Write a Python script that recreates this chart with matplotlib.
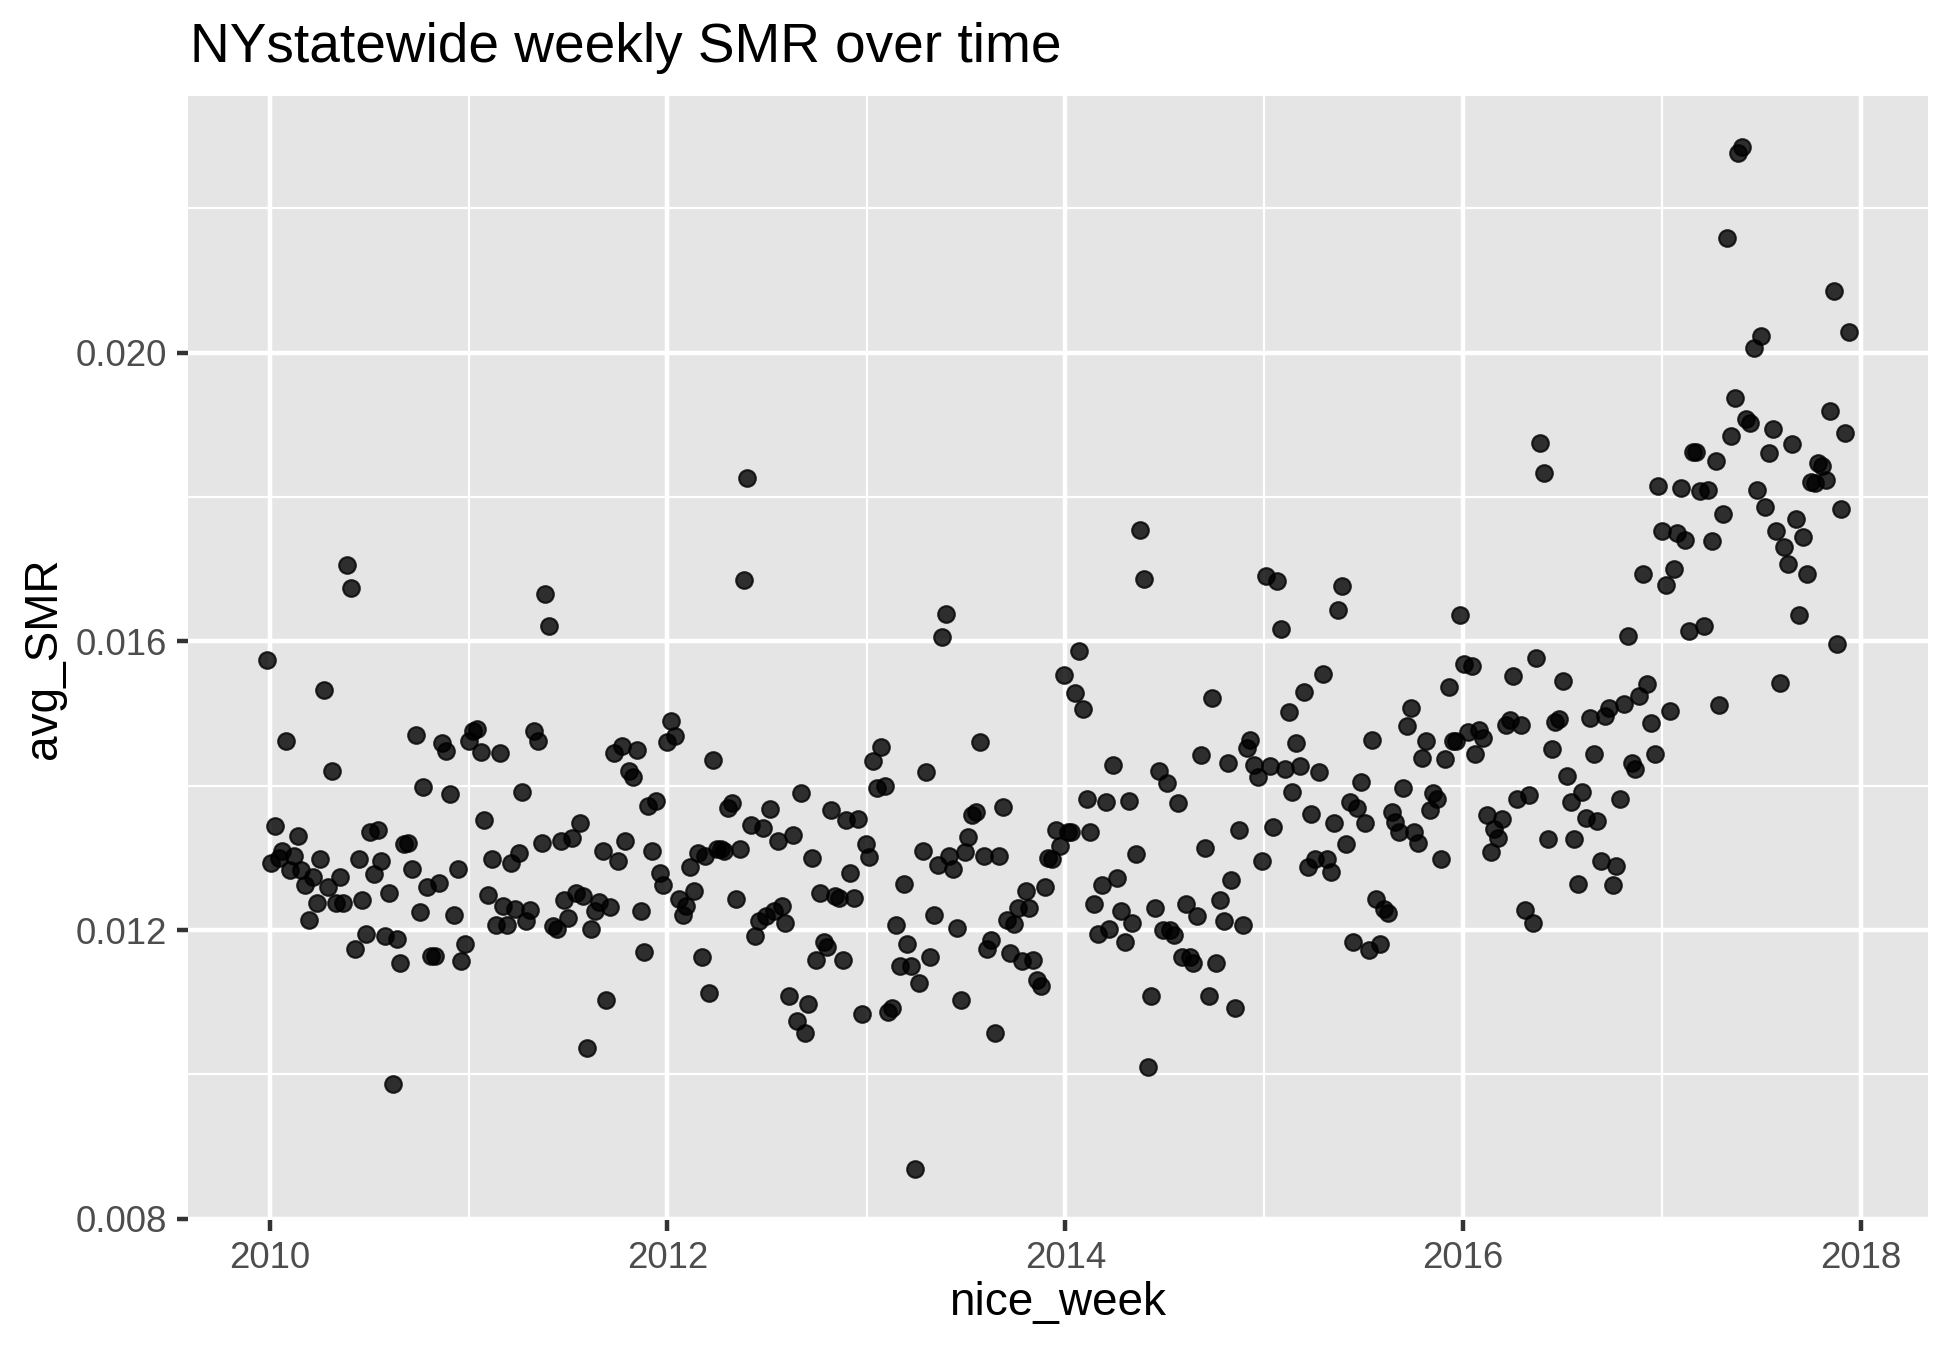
"""
NY statewide weekly SMR scatter, ggplot-style look with matplotlib.
"""

import matplotlib
matplotlib.use("Agg")
import matplotlib.dates as mdates
import matplotlib.pyplot as plt
import matplotlib.ticker as mticker
import numpy as np
import pandas as pd

# weekly avg_SMR, one list per year of weeks
smr_2010 = [0.01574, 0.01293, 0.01344, 0.01300, 0.01310, 0.01462, 0.01283, 0.01302, 0.01330, 0.01283,
            0.01263, 0.01214, 0.01274, 0.01237, 0.01299, 0.01532, 0.01259, 0.01421, 0.01237, 0.01274,
            0.01237, 0.01706, 0.01674, 0.01174, 0.01299, 0.01241, 0.01194, 0.01336, 0.01277, 0.01339,
            0.01296, 0.01192, 0.01252, 0.00986, 0.01188, 0.01155, 0.01319, 0.01321, 0.01285, 0.01470,
            0.01225, 0.01398, 0.01259, 0.01164, 0.01164, 0.01265, 0.01459, 0.01448, 0.01388, 0.01221,
            0.01284, 0.01157, 0.01180]
smr_2011 = [0.01462, 0.01476, 0.01479, 0.01447, 0.01352, 0.01248, 0.01299, 0.01207, 0.01446, 0.01234,
            0.01207, 0.01293, 0.01229, 0.01307, 0.01391, 0.01212, 0.01228, 0.01476, 0.01462, 0.01320,
            0.01665, 0.01622, 0.01206, 0.01201, 0.01324, 0.01241, 0.01217, 0.01328, 0.01251, 0.01348,
            0.01247, 0.01036, 0.01201, 0.01226, 0.01239, 0.01309, 0.01103, 0.01232, 0.01446, 0.01295,
            0.01455, 0.01323, 0.01421, 0.01412, 0.01450, 0.01226, 0.01169, 0.01372, 0.01309, 0.01379,
            0.01279, 0.01263]
smr_2012 = [0.01460, 0.01490, 0.01469, 0.01243, 0.01221, 0.01234, 0.01288, 0.01254, 0.01307, 0.01163,
            0.01303, 0.01113, 0.01436, 0.01312, 0.01312, 0.01310, 0.01369, 0.01376, 0.01243, 0.01313,
            0.01685, 0.01826, 0.01345, 0.01192, 0.01212, 0.01341, 0.01219, 0.01368, 0.01226, 0.01324,
            0.01234, 0.01210, 0.01108, 0.01332, 0.01074, 0.01390, 0.01058, 0.01097, 0.01300, 0.01159,
            0.01251, 0.01184, 0.01177, 0.01367, 0.01247, 0.01245, 0.01159, 0.01352, 0.01279, 0.01245,
            0.01354, 0.01083]
smr_2013 = [0.01319, 0.01301, 0.01434, 0.01397, 0.01454, 0.01400, 0.01086, 0.01092, 0.01207, 0.01150,
            0.01264, 0.01181, 0.01150, 0.00869, 0.01126, 0.01310, 0.01419, 0.01163, 0.01221, 0.01290,
            0.01606, 0.01638, 0.01303, 0.01285, 0.01203, 0.01103, 0.01308, 0.01329, 0.01359, 0.01363,
            0.01460, 0.01303, 0.01174, 0.01186, 0.01057, 0.01303, 0.01370, 0.01214, 0.01168, 0.01209,
            0.01230, 0.01157, 0.01254, 0.01230, 0.01159, 0.01131, 0.01122, 0.01259, 0.01300, 0.01299,
            0.01338, 0.01317]
smr_2014 = [0.01554, 0.01336, 0.01336, 0.01529, 0.01587, 0.01507, 0.01381, 0.01336, 0.01236, 0.01194,
            0.01262, 0.01377, 0.01202, 0.01429, 0.01272, 0.01226, 0.01184, 0.01379, 0.01210, 0.01305,
            0.01754, 0.01687, 0.01010, 0.01108, 0.01230, 0.01421, 0.01200, 0.01404, 0.01200, 0.01193,
            0.01376, 0.01162, 0.01236, 0.01162, 0.01155, 0.01219, 0.01443, 0.01314, 0.01109, 0.01521,
            0.01155, 0.01241, 0.01212, 0.01432, 0.01270, 0.01092, 0.01339, 0.01207, 0.01452, 0.01464,
            0.01429, 0.01412]
smr_2015 = [0.01296, 0.01691, 0.01428, 0.01343, 0.01684, 0.01617, 0.01423, 0.01502, 0.01392, 0.01459,
            0.01428, 0.01530, 0.01288, 0.01361, 0.01299, 0.01419, 0.01555, 0.01298, 0.01281, 0.01348,
            0.01643, 0.01677, 0.01319, 0.01378, 0.01183, 0.01369, 0.01405, 0.01348, 0.01172, 0.01463,
            0.01243, 0.01181, 0.01229, 0.01224, 0.01363, 0.01350, 0.01336, 0.01397, 0.01483, 0.01508,
            0.01336, 0.01321, 0.01439, 0.01462, 0.01367, 0.01390, 0.01381, 0.01298, 0.01437, 0.01537,
            0.01462, 0.01462, 0.01636]
smr_2016 = [0.01569, 0.01474, 0.01566, 0.01444, 0.01477, 0.01466, 0.01360, 0.01308, 0.01340, 0.01327,
            0.01354, 0.01484, 0.01491, 0.01552, 0.01382, 0.01484, 0.01228, 0.01387, 0.01210, 0.01577,
            0.01875, 0.01833, 0.01326, 0.01451, 0.01489, 0.01493, 0.01545, 0.01414, 0.01378, 0.01326,
            0.01264, 0.01391, 0.01355, 0.01494, 0.01444, 0.01351, 0.01296, 0.01496, 0.01508, 0.01263,
            0.01289, 0.01382, 0.01513, 0.01608, 0.01432, 0.01423, 0.01524, 0.01693, 0.01541, 0.01487,
            0.01444, 0.01816]
smr_2017 = [0.01753, 0.01678, 0.01503, 0.01700, 0.01750, 0.01812, 0.01740, 0.01614, 0.01862, 0.01862,
            0.01809, 0.01622, 0.01810, 0.01739, 0.01850, 0.01512, 0.01777, 0.02159, 0.01884, 0.01937,
            0.02277, 0.02285, 0.01908, 0.01902, 0.02007, 0.01810, 0.02023, 0.01786, 0.01861, 0.01895,
            0.01753, 0.01543, 0.01731, 0.01707, 0.01874, 0.01770, 0.01636, 0.01744, 0.01693, 0.01821,
            0.01819, 0.01847, 0.01843, 0.01824, 0.01919, 0.02085, 0.01597, 0.01783, 0.01889, 0.02029]

first_week = "2009-12-27"

title = "NYstatewide weekly SMR over time"
x_label = "nice_week"
y_label = "avg_SMR"
x_major_years = [2010, 2012, 2014, 2016, 2018]
x_minor_years = [2011, 2013, 2015, 2017]
y_major = [0.008, 0.012, 0.016, 0.020]
y_minor = [0.010, 0.014, 0.018, 0.022]

plt.rcParams['font.family'] = ['Liberation Sans', 'DejaVu Sans']

W, H = 1950, 1349


def year_num(years):
    return mdates.date2num([pd.Timestamp(f"{y}-01-01") for y in years])


def main():
    smr = np.array(smr_2010 + smr_2011 + smr_2012 + smr_2013 +
                   smr_2014 + smr_2015 + smr_2016 + smr_2017)
    weeks = pd.date_range(first_week, periods=len(smr), freq="7D")
    x = mdates.date2num(weeks)

    fig = plt.figure(figsize=(W / 300, H / 300), dpi=300)
    # panel box in pixels: left 188, right 1928, top 96, bottom 1220
    ax = fig.add_axes([188 / W, 1 - 1220 / H, 1740 / W, 1124 / H])
    ax.set_facecolor('#E5E5E5')
    for s in ax.spines.values():
        s.set_visible(False)

    ax.scatter(x, smr, s=16, facecolor='black', edgecolor='black',
               linewidths=0.5, alpha=0.8, zorder=3)

    # ggplot-like 5% expansion
    xpad = 0.05 * (x.max() - x.min())
    ypad = 0.05 * (smr.max() - smr.min())
    ax.set_xlim(x.min() - xpad, x.max() + xpad)
    ax.set_ylim(smr.min() - ypad, smr.max() + ypad)

    ax.set_xticks(year_num(x_major_years))
    ax.set_xticklabels([str(y) for y in x_major_years])
    ax.set_xticks(year_num(x_minor_years), minor=True)
    ax.set_yticks(y_major)
    ax.set_yticks(y_minor, minor=True)
    ax.yaxis.set_major_formatter(mticker.FormatStrFormatter('%.3f'))

    ax.grid(which='major', color='white', linewidth=1.07, zorder=0)
    ax.grid(which='minor', color='white', linewidth=0.53, zorder=0)
    ax.set_axisbelow(True)

    ax.tick_params(which='major', length=2.75, width=1.07, color='#333333',
                   labelsize=8.8, labelcolor='#4D4D4D', pad=2.2)
    ax.tick_params(which='minor', length=0)

    fig.text(190 / W, 1 - 62 / H, title, fontsize=13.2, color='black',
             ha='left', va='baseline')

    ax.set_xlabel(x_label, fontsize=11, color='black')
    ax.xaxis.set_label_coords(0.5, (1220 - 1315) / 1124)
    ax.xaxis.label.set_va('baseline')
    ax.set_ylabel(y_label, fontsize=11, color='black')
    ax.yaxis.set_label_coords((44 - 188) / 1740, 0.5)
    ax.yaxis.label.set_va('center')

    fig.savefig('out.png', dpi=300, facecolor='white')
    plt.close(fig)


if __name__ == '__main__':
    main()
